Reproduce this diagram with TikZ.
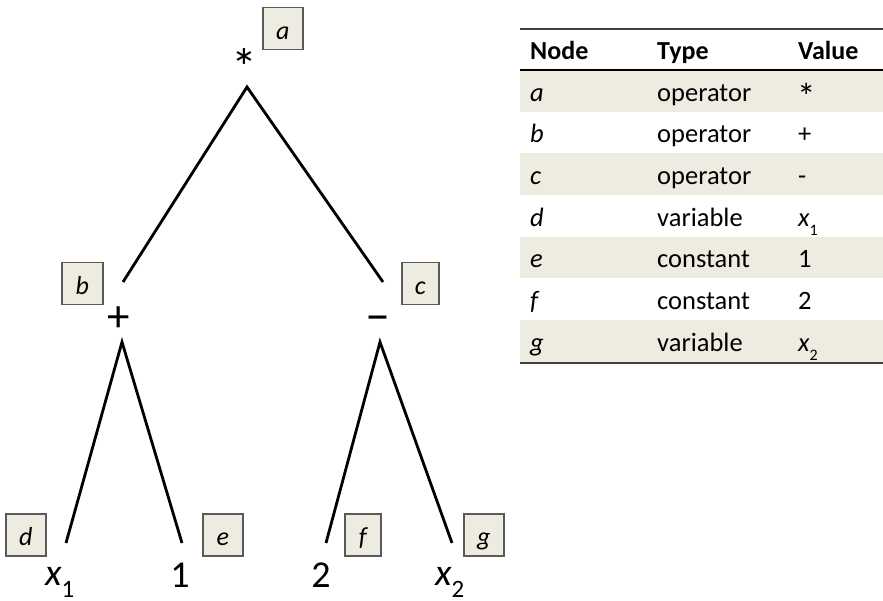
\documentclass[tikz,border=0pt]{standalone}
\usepackage{fontspec}
\setmainfont{Carlito}
\definecolor{cellbg}{HTML}{EEECE1}
\definecolor{boxline}{HTML}{5A5A5A}
\definecolor{rulegray}{HTML}{404040}
\begin{document}
\begin{tikzpicture}[x=1pt,y=-1pt,
  lbl/.style={draw=boxline, line width=1.5pt, fill=cellbg, minimum height=42pt, inner sep=0pt,
    text height=23pt, text depth=2pt, font=\fontsize{26}{30}\selectfont\itshape, anchor=north west},
  sym/.style={font=\fontsize{38}{44}\selectfont, inner sep=0pt, anchor=base},
  edge/.style={line width=2.8pt},
  cell/.style={font=\fontsize{26.5}{30}\selectfont, anchor=base west, inner sep=0pt},
  hcell/.style={cell, font=\fontsize{26}{30}\selectfont\bfseries},
  icell/.style={cell, font=\fontsize{26.5}{30}\selectfont\itshape},
]
\useasboundingbox (0,0) rectangle (883,601);

% ---- tree symbols
\node[sym, font=\fontsize{52}{56}\selectfont] (sa) at (244,86) {*};
\node[sym, font=\fontsize{45}{50}\selectfont] (sb) at (119,331) {+};
\node[sym, font=\fontsize{50}{56}\selectfont] (sc) at (378,331) {\textendash};
\node[sym, anchor=base west] (sd) at (45,585) {\itshape x\raisebox{-12pt}{\upshape\fontsize{25}{30}\selectfont 1}};
\node[sym] (se) at (180,587) {1};
\node[sym] (sf) at (321,587) {2};
\node[sym, anchor=base west] (sg) at (435,585) {\itshape x\raisebox{-12pt}{\upshape\fontsize{25}{30}\selectfont 2}};

% ---- label boxes
\node[lbl, minimum width=40pt] (la) at (262,7) {a};
\node[lbl, minimum width=41pt] (lb) at (61,262) {b};
\node[lbl, minimum width=37pt] (lc) at (401,262) {c};
\node[lbl, minimum width=40pt] (ld) at (5,513) {d};
\node[lbl, minimum width=40pt] (le) at (202,513) {e};
\node[lbl, minimum width=36pt] (lf) at (344,513) {f};
\node[lbl, minimum width=40pt] (lg) at (463,513) {g};

% ---- connector end points
\coordinate (ta) at (247,87);
\coordinate (tb) at (122,342);
\coordinate (tc) at (380,342);
\coordinate (bb) at (123,282);
\coordinate (bc) at (383,282);
\coordinate (bd) at (66,543);
\coordinate (be) at (182,543);
\coordinate (bf) at (326,543);
\coordinate (bg) at (452,543);
\draw[edge] (bb) -- (ta) -- (bc);
\draw[edge] (bd) -- (tb) -- (be);
\draw[edge] (bf) -- (tc) -- (bg);

% ---- table
\fill[cellbg] (520,70) rectangle (883,112);
\fill[cellbg] (520,153) rectangle (883,195);
\fill[cellbg] (520,237) rectangle (883,278);
\fill[cellbg] (520,320) rectangle (883,362);
\draw[rulegray, line width=2.5pt] (520,29) -- (883,29);
\draw[black, line width=1.5pt] (520,70) -- (883,70);
\draw[rulegray, line width=2.5pt] (520,363) -- (883,363);

\node[hcell] (h1) at (530,60) {Node};
\node[hcell] (h2) at (657,60) {Type};
\node[hcell] (h3) at (798,60) {Value};

\node[icell] (r1a) at (530,102) {a};
\node[cell]  (r1b) at (657,102) {operator};
\node[cell, font=\fontsize{37}{40}\selectfont]  (r1c) at (797,110) {*};
\node[icell] (r2a) at (530,143) {b};
\node[cell]  (r2b) at (657,143) {operator};
\node[cell]  (r2c) at (798,143) {+};
\node[icell] (r3a) at (530,185) {c};
\node[cell]  (r3b) at (657,185) {operator};
\node[cell]  (r3c) at (798,185) {-};
\node[icell] (r4a) at (530,227) {d};
\node[cell]  (r4b) at (657,227) {variable};
\node[cell]  (r4c) at (798,227) {\itshape x\raisebox{-9pt}{\upshape\fontsize{16}{18}\selectfont 1}};
\node[icell] (r5a) at (530,268) {e};
\node[cell]  (r5b) at (657,268) {constant};
\node[cell]  (r5c) at (798,268) {1};
\node[icell] (r6a) at (530,310) {f};
\node[cell]  (r6b) at (657,310) {constant};
\node[cell]  (r6c) at (798,310) {2};
\node[icell] (r7a) at (530,352) {g};
\node[cell]  (r7b) at (657,352) {variable};
\node[cell]  (r7c) at (798,352) {\itshape x\raisebox{-9pt}{\upshape\fontsize{16}{18}\selectfont 2}};
\end{tikzpicture}
\end{document}
